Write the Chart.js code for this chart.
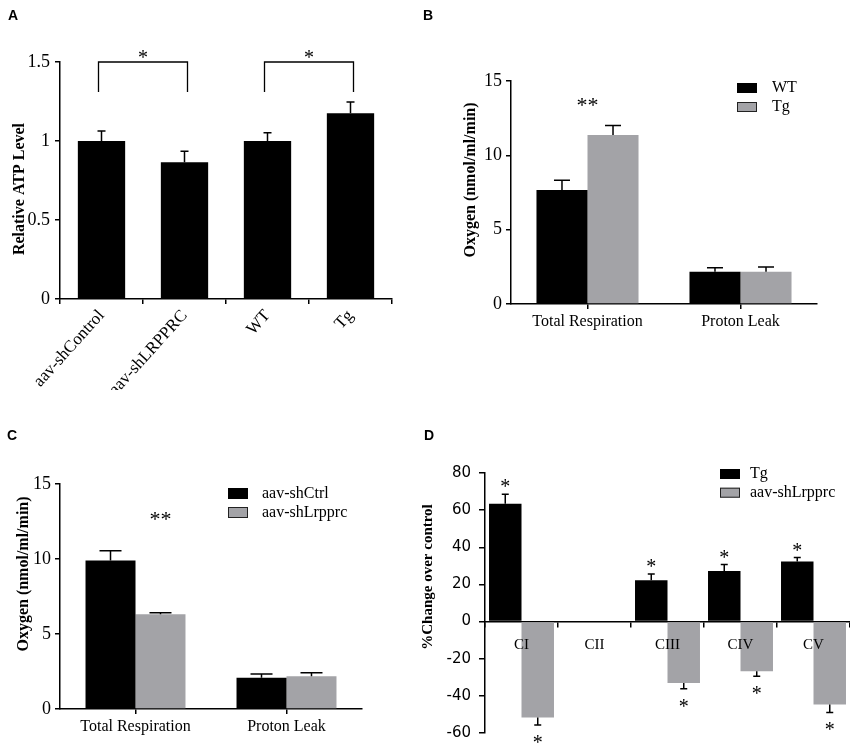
<!DOCTYPE html>
<html><head><meta charset="utf-8">
<script src="https://cdn.jsdelivr.net/npm/chart.js@4.4.0/dist/chart.umd.min.js"></script>
<style>
body{margin:0;background:#fff;width:850px;height:750px;position:relative;overflow:hidden;}
.pc{position:absolute;}
.lt{position:absolute;font:bold 14px "Liberation Sans",Arial,sans-serif;color:#000;line-height:14px;z-index:2;}
</style></head><body>
<div class="pc" style="left:0;top:0;width:425px;height:390px"><canvas id="cA"></canvas></div>
<div class="pc" style="left:425px;top:0;width:425px;height:390px"><canvas id="cB"></canvas></div>
<div class="pc" style="left:0;top:390px;width:410px;height:360px"><canvas id="cC"></canvas></div>
<div class="pc" style="left:410px;top:390px;width:440px;height:360px"><canvas id="cD"></canvas></div>
<div class="lt" style="left:8px;top:8px">A</div>
<div class="lt" style="left:423px;top:8px">B</div>
<div class="lt" style="left:7px;top:428px">C</div>
<div class="lt" style="left:424px;top:428px">D</div>
<script>
// ---------- DATA ----------
const catsA = ['aav-shControl', 'aav-shLRPPRC', 'WT', 'Tg'];
const atpA = [1.0, 0.865, 1.0, 1.175];
const atpErrA = [0.063, 0.07, 0.053, 0.072];
const ticksA = [0, 0.5, 1, 1.5];

const catsBC = ['Total Respiration', 'Proton Leak'];
const wtB = [7.67, 2.17];
const wtErrB = [0.65, 0.27];
const tgB = [11.37, 2.17];
const tgErrB = [0.63, 0.32];
const ticksBC = [0, 5, 10, 15];

const ctrlC = [9.9, 2.09];
const ctrlErrC = [0.65, 0.25];
const shC = [6.32, 2.18];
const shErrC = [0.1, 0.24];

const catsD = ['CI', 'CII', 'CIII', 'CIV', 'CV'];
const tgD = [63.5, 0, 22.2, 27.2, 32.3];
const tgErrD = [5.0, 0, 3.4, 3.5, 2.2];
const shD = [-51.6, 0, -33.1, -26.7, -44.6];
const shErrD = [4.1, 0, 3.1, 2.7, 4.3];
const starsTgD = ['*', '', '*', '*', '*'];
const starsShD = ['*', '', '*', '*', '*'];
const ticksD = [-60, -40, -20, 0, 20, 40, 60, 80];

// ---------- STYLE ----------
const SERIF = '"Liberation Serif","Times New Roman",serif';
const SANS = '"DejaVu Sans",Verdana,sans-serif';
const BLACK = '#000000';
const GRAY = '#a3a3a7';

const annot = {
  id: 'annot',
  afterDatasetsDraw(chart, args, o) {
    const ctx = chart.ctx;
    const ys = chart.scales.y;
    ctx.save();
    (o.errors || []).forEach((errs, di) => {
      const meta = chart.getDatasetMeta(di);
      meta.data.forEach((bar, i) => {
        const v = chart.data.datasets[di].data[i];
        const e = errs[i];
        if (!e) return;
        const end = v >= 0 ? v + e : v - e;
        const yEnd = ys.getPixelForValue(end);
        ctx.strokeStyle = '#000';
        ctx.lineWidth = o.errWidth || 1.5;
        ctx.beginPath();
        ctx.moveTo(bar.x, bar.y);
        ctx.lineTo(bar.x, yEnd);
        ctx.moveTo(bar.x - o.cap / 2, yEnd);
        ctx.lineTo(bar.x + o.cap / 2, yEnd);
        ctx.stroke();
        const st = o.stars && o.stars[di] && o.stars[di][i];
        if (st) {
          ctx.fillStyle = '#000';
          ctx.font = '20px ' + SERIF;
          ctx.textAlign = 'center';
          ctx.textBaseline = 'alphabetic';
          ctx.fillText(st, bar.x, v >= 0 ? yEnd - 1 : yEnd + 24);
        }
      });
    });
    // brackets
    const xs = chart.scales.x;
    (o.brackets || []).forEach(b => {
      const x1 = xs.getPixelForValue(b.from) - 3, x2 = xs.getPixelForValue(b.to) + 3;
      const yTop = ys.getPixelForValue(b.level);
      const yLeg = ys.getPixelForValue(b.legEnd);
      ctx.strokeStyle = '#000';
      ctx.lineWidth = 1.3;
      ctx.beginPath();
      ctx.moveTo(x1, yLeg); ctx.lineTo(x1, yTop); ctx.lineTo(x2, yTop); ctx.lineTo(x2, yLeg);
      ctx.stroke();
      ctx.fillStyle = '#000';
      ctx.font = '20px ' + SERIF;
      ctx.textAlign = 'center';
      ctx.textBaseline = 'alphabetic';
      ctx.fillText(b.text, (x1 + x2) / 2, yTop + 2);
    });
    // group significance text
    (o.groupSig || []).forEach(g => {
      ctx.fillStyle = '#000';
      ctx.font = '22px ' + SERIF;
      ctx.textAlign = 'center';
      ctx.textBaseline = 'alphabetic';
      ctx.fillText(g.text, xs.getPixelForValue(g.index) + (g.dx || 0), ys.getPixelForValue(g.value));
    });
    // legend
    if (o.legend) {
      const L = o.legend;
      chart.data.datasets.forEach((ds, i) => {
        const top = L.y + i * L.step;
        ctx.fillStyle = ds.backgroundColor;
        ctx.fillRect(L.x, top, L.w, L.h);
        if (ds.backgroundColor !== BLACK) {
          ctx.strokeStyle = '#222';
          ctx.lineWidth = 1;
          ctx.strokeRect(L.x + 0.5, top + 0.5, L.w - 1, L.h - 1);
        }
        ctx.fillStyle = '#000';
        ctx.font = '16px ' + SERIF;
        ctx.textAlign = 'left';
        ctx.textBaseline = 'middle';
        ctx.fillText(ds.label, L.tx, top + L.h / 2);
      });
    }
    // y title
    if (o.yTitle) {
      const T = o.yTitle;
      ctx.save();
      ctx.translate(T.x, T.y);
      ctx.rotate(-Math.PI / 2);
      ctx.fillStyle = '#000';
      ctx.font = 'bold ' + T.size + 'px ' + SERIF;
      ctx.textAlign = 'center';
      ctx.textBaseline = 'middle';
      ctx.fillText(T.text, 0, 0);
      ctx.restore();
    }
    ctx.restore();
  }
};

function yAxis(minV, maxV, tickVals, font, tickLen, pad, width) {
  return {
    min: minV, max: maxV,
    ticks: { color: '#000', font: font, padding: pad, callback: v => String(v) },
    afterBuildTicks(s) { s.ticks = tickVals.map(v => ({ value: v })); },
    grid: { display: true, drawOnChartArea: false, drawTicks: true, tickLength: tickLen, color: '#000', lineWidth: 1.5 },
    border: { display: true, color: '#000', width: 1.5 },
    afterFit(s) { s.width = width; }
  };
}
function xAxis(font, tickLen, pad, height, gridOffset, rot, extra) {
  return Object.assign({
    ticks: { color: '#000', font: font, padding: pad, autoSkip: false, maxRotation: rot, minRotation: rot, z: 1 },
    grid: { display: true, drawOnChartArea: false, drawTicks: true, tickLength: tickLen, color: '#000', lineWidth: 1.5, offset: gridOffset },
    border: { display: true, color: '#000', width: 1.5 },
    afterFit(s) { s.height = height; }
  }, extra || {});
}
const basePlugins = { legend: { display: false }, tooltip: { enabled: false } };

// ---------- A ----------
new Chart(document.getElementById('cA'), {
  type: 'bar',
  data: { labels: catsA, datasets: [{ label: 'ATP', data: atpA, backgroundColor: BLACK, barPercentage: 0.57, categoryPercentage: 1 }] },
  options: {
    responsive: true, maintainAspectRatio: false, animation: false,
    layout: { padding: { left: 0, top: 62, right: 33, bottom: 0 } },
    scales: {
      x: xAxis({ family: SERIF, size: 17 }, 5, 2, 91, true, 48),
      y: yAxis(0, 1.5, ticksA, { family: SERIF, size: 18 }, 5, 5, 60)
    },
    plugins: Object.assign({}, basePlugins, {
      annot: {
        errors: [atpErrA], cap: 8,
        brackets: [{ from: 0, to: 1, level: 1.5, legEnd: 1.31, text: '*' }, { from: 2, to: 3, level: 1.5, legEnd: 1.31, text: '*' }],
        yTitle: { text: 'Relative ATP Level', x: 20, y: 189, size: 16 }
      }
    })
  },
  plugins: [annot]
});

// ---------- B ----------
new Chart(document.getElementById('cB'), {
  type: 'bar',
  data: { labels: catsBC, datasets: [
    { label: 'WT', data: wtB, backgroundColor: BLACK, barPercentage: 1, categoryPercentage: 0.667 },
    { label: 'Tg', data: tgB, backgroundColor: GRAY, barPercentage: 1, categoryPercentage: 0.667 }
  ] },
  options: {
    responsive: true, maintainAspectRatio: false, animation: false,
    layout: { padding: { left: 0, top: 81, right: 33, bottom: 0 } },
    scales: {
      x: xAxis({ family: SERIF, size: 16 }, 5, 3, 86, false, 0),
      y: yAxis(0, 15, ticksBC, { family: SERIF, size: 18 }, 5, 4, 86)
    },
    plugins: Object.assign({}, basePlugins, {
      annot: {
        errors: [wtErrB, tgErrB], cap: 16,
        groupSig: [{ text: '**', index: 0, value: 12.9 }],
        legend: { x: 312, y: 83, w: 20, h: 10, step: 19, tx: 347 },
        yTitle: { text: 'Oxygen (nmol/ml/min)', x: 46, y: 180, size: 16 }
      }
    })
  },
  plugins: [annot]
});

// ---------- C ----------
new Chart(document.getElementById('cC'), {
  type: 'bar',
  data: { labels: catsBC, datasets: [
    { label: 'aav-shCtrl', data: ctrlC, backgroundColor: BLACK, barPercentage: 1, categoryPercentage: 0.662 },
    { label: 'aav-shLrpprc', data: shC, backgroundColor: GRAY, barPercentage: 1, categoryPercentage: 0.662 }
  ] },
  options: {
    responsive: true, maintainAspectRatio: false, animation: false,
    layout: { padding: { left: 0, top: 94, right: 48, bottom: 0 } },
    scales: {
      x: xAxis({ family: SERIF, size: 16 }, 5, 3, 41, false, 0),
      y: yAxis(0, 15, ticksBC, { family: SERIF, size: 18 }, 5, 4, 60)
    },
    plugins: Object.assign({}, basePlugins, {
      annot: {
        errors: [ctrlErrC, shErrC], cap: 22,
        groupSig: [{ text: '**', index: 0, value: 12.2, dx: 25 }],
        legend: { x: 228, y: 98, w: 20, h: 11, step: 19, tx: 262 },
        yTitle: { text: 'Oxygen (nmol/ml/min)', x: 24, y: 184, size: 16 }
      }
    })
  },
  plugins: [annot]
});

// ---------- D ----------
new Chart(document.getElementById('cD'), {
  type: 'bar',
  data: { labels: catsD, datasets: [
    { label: 'Tg', data: tgD, backgroundColor: BLACK, barPercentage: 1, categoryPercentage: 0.89 },
    { label: 'aav-shLrpprc', data: shD, backgroundColor: GRAY, barPercentage: 1, categoryPercentage: 0.89 }
  ] },
  options: {
    responsive: true, maintainAspectRatio: false, animation: false,
    layout: { padding: { left: 15, top: 83, right: 0, bottom: 9.5 } },
    scales: {
      x: xAxis({ family: SERIF, size: 15 }, 5, 9, 30, true, 0, { position: { y: 0 } }),
      y: yAxis(-60, 80, ticksD, { family: SANS, size: 15 }, 6, 8, 60)
    },
    plugins: Object.assign({}, basePlugins, {
      annot: {
        errors: [tgErrD, shErrD], cap: 7,
        stars: [starsTgD, starsShD],
        legend: { x: 310, y: 79, w: 20, h: 10, step: 18.7, tx: 340 },
        yTitle: { text: '%Change over control', x: 18, y: 187, size: 15 }
      }
    })
  },
  plugins: [annot]
});
</script>
</body></html>
